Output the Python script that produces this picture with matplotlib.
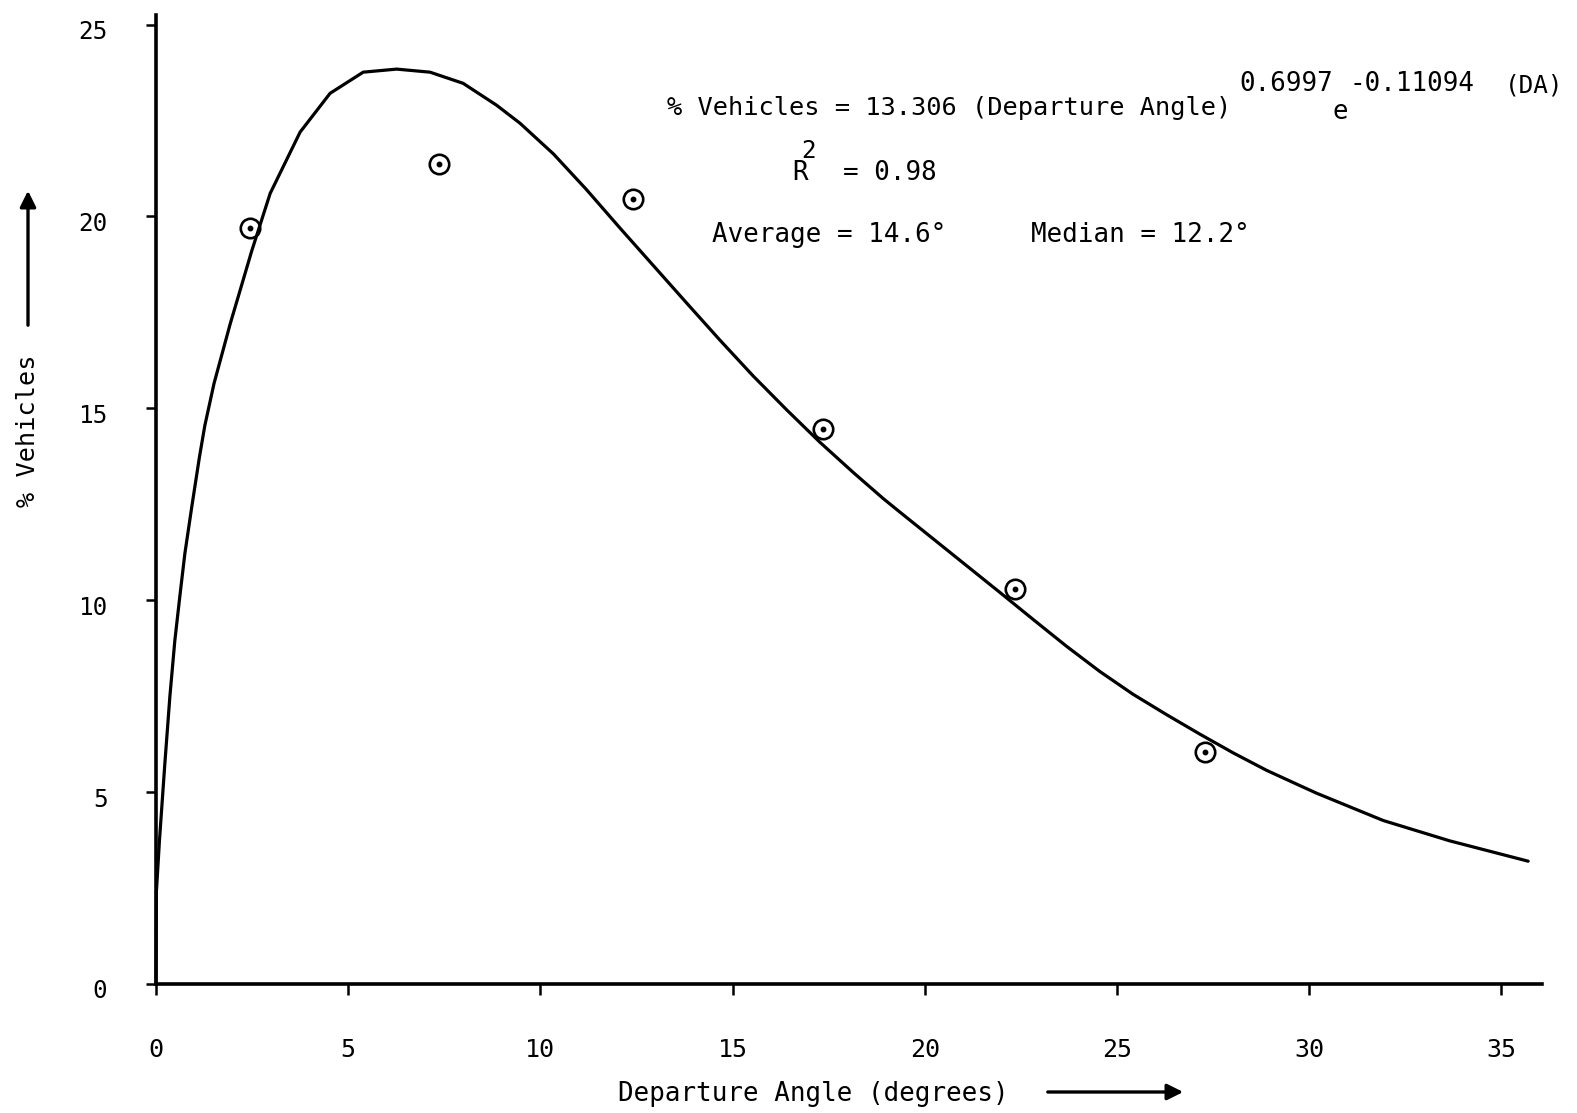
import matplotlib
matplotlib.use("Agg")
import matplotlib.pyplot as plt
import matplotlib.transforms as mtransforms

# ---- data ----
point_angle = [2.45, 7.35, 12.4, 17.35, 22.35, 27.3]
point_pct = [19.69, 21.37, 20.45, 14.47, 10.30, 6.05]

curve_angle = [0.0, 0.01, 0.09, 0.23, 0.36, 0.49, 0.62, 0.75, 0.93, 1.13,
               1.27, 1.51, 1.93, 2.49, 2.97, 3.75, 4.53, 5.39, 6.26, 7.13,
               7.99, 8.86, 9.47, 10.34, 11.20, 12.07, 12.94, 13.81, 14.67,
               15.54, 16.41, 17.27, 18.14, 18.92, 19.35, 20.22, 21.09, 21.96,
               22.82, 23.69, 24.56, 25.42, 26.29, 27.16, 28.03, 28.89, 29.76,
               30.20, 31.93, 33.66, 35.70]
curve_pct = [0.0, 2.4, 3.74, 5.74, 7.48, 8.95, 10.1, 11.21, 12.43, 13.73,
             14.55, 15.65, 17.2, 19.1, 20.6, 22.2, 23.21, 23.76, 23.84, 23.76,
             23.47, 22.90, 22.43, 21.63, 20.70, 19.70, 18.72, 17.74, 16.78,
             15.84, 14.96, 14.12, 13.33, 12.65, 12.30, 11.60, 10.90, 10.20,
             9.50, 8.80, 8.14, 7.55, 7.02, 6.51, 6.02, 5.57, 5.17,
             4.97, 4.26, 3.73, 3.20]

x_ticks = [0, 5, 10, 15, 20, 25, 30, 35]
y_ticks = [0, 5, 10, 15, 20, 25]

FONT = "DejaVu Sans Mono"
plt.rcParams['font.family'] = [FONT]

W, H = 1577, 1113
fig = plt.figure(figsize=(W / 100, H / 100), dpi=100)
fig.patch.set_facecolor('white')
ax = fig.add_axes([156 / W, 1 - 984 / H, 1386 / W, 969 / H])
ax.set_xlim(0, 36.06)
ax.set_ylim(0, 25.25)

ax.plot(curve_angle, curve_pct, color='black', lw=2.3, clip_on=False,
        solid_capstyle='round', solid_joinstyle='round')
ax.plot(point_angle, point_pct, linestyle='none', marker='o', ms=14,
        mfc='none', mec='black', mew=1.9)
ax.plot(point_angle, point_pct, linestyle='none', marker='o', ms=3.2,
        mfc='black', mec='black')

for s in ['top', 'right']:
    ax.spines[s].set_visible(False)
for s in ['left', 'bottom']:
    ax.spines[s].set_linewidth(2.6)
    ax.spines[s].set_color('black')

ax.set_xticks(x_ticks)
ax.set_yticks(y_ticks)
ax.set_xticklabels([str(v) for v in x_ticks], fontsize=18)
ax.set_yticklabels([str(v) for v in y_ticks], fontsize=17.5)
ax.tick_params(axis='x', direction='out', length=8, width=1.8, pad=31)
ax.tick_params(axis='y', direction='out', length=7, width=1.8, pad=28)
off = mtransforms.ScaledTranslation(0, -5 / 100, fig.dpi_scale_trans)
for lab in ax.get_yticklabels():
    lab.set_transform(lab.get_transform() + off)


def ftext(x, y, s, size=18.6, **kw):
    fig.text(x / W, 1 - y / H, s, fontsize=size, ha=kw.pop('ha', 'left'),
             va=kw.pop('va', 'center'), color='black', **kw)


ftext(667, 108, "% Vehicles = 13.306 (Departure Angle)", size=18.3)
ftext(1239, 84, "0.6997")
ftext(1332, 112, "e")
ftext(1350, 84, "-0.11094")
ftext(1505, 86, "(DA)", size=17.6)
ftext(792, 173, "R")
ftext(801, 151, "2", size=17.5)
ftext(843, 173, "= 0.98")
ftext(712, 235, "Average = 14.6°")
ftext(1031, 235, "Median = 12.2°")

# axis titles with arrows
ftext(28, 431, "% Vehicles", size=18.2, ha='center', rotation=90)
ax.annotate("", xy=(28 / W, 1 - 188 / H), xytext=(28 / W, 1 - 328 / H),
            xycoords='figure fraction', textcoords='figure fraction',
            arrowprops=dict(arrowstyle='-|>', color='black', lw=2.4,
                            mutation_scale=24))
ftext(813, 1094, "Departure Angle (degrees)", size=18.6, ha='center')
ax.annotate("", xy=(1186 / W, 1 - 1092 / H), xytext=(1045 / W, 1 - 1092 / H),
            xycoords='figure fraction', textcoords='figure fraction',
            arrowprops=dict(arrowstyle='-|>', color='black', lw=2.4,
                            mutation_scale=24))

fig.savefig("out.png", dpi=100, facecolor='white')
